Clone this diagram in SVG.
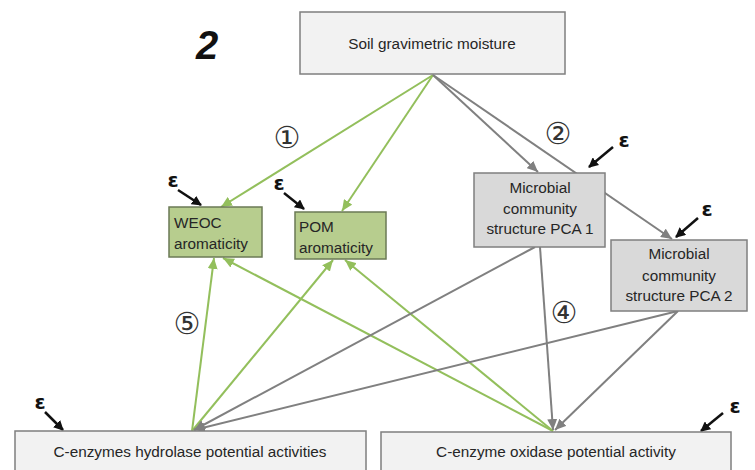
<svg xmlns="http://www.w3.org/2000/svg" width="755" height="470" viewBox="0 0 755 470">
<defs>
<style>
.t{font-family:"Liberation Sans","Open Sans",sans-serif;font-size:15.3px;fill:#262626}
.box{stroke:#7f7f7f;stroke-width:1.5}
.lt{fill:#f2f2f2}
.gr{fill:#d9d9d9}
.gn{fill:#b7cd8e;stroke:#6b7a55}
.g{stroke:#93bf5c;stroke-width:2;fill:none;marker-end:url(#ag)}
.k{stroke:#808080;stroke-width:2;fill:none;marker-end:url(#ak)}
.e{stroke:#111;stroke-width:2.5;fill:none;marker-end:url(#ae)}
.eps{font-family:"DejaVu Sans",sans-serif;font-weight:bold;font-size:20px;fill:#111}
.num{font-family:"DejaVu Sans",sans-serif;font-size:30px;fill:#333}
</style>
<marker id="ag" markerWidth="12" markerHeight="10" refX="11" refY="5" orient="auto" markerUnits="userSpaceOnUse"><path d="M0,0 L11,5 L0,10 z" fill="#93bf5c"/></marker>
<marker id="ak" markerWidth="12" markerHeight="10" refX="11" refY="5" orient="auto" markerUnits="userSpaceOnUse"><path d="M0,0 L11,5 L0,10 z" fill="#808080"/></marker>
<marker id="ae" markerWidth="10" markerHeight="10" refX="9" refY="5" orient="auto" markerUnits="userSpaceOnUse"><path d="M0,0 L10,5 L0,10 z" fill="#111"/></marker>
</defs>
<rect width="755" height="470" fill="#fff"/>
<text x="207" y="59" text-anchor="middle" style="font-family:'Liberation Sans',sans-serif;font-weight:bold;font-style:italic;font-size:40px;fill:#111">2</text>
<g id="connectors">
<line class="g" x1="433" y1="75" x2="221" y2="207"/>
<line class="g" x1="433" y1="75" x2="342" y2="211"/>
<line class="k" x1="433" y1="75" x2="538" y2="172"/>
<line class="k" x1="433" y1="75" x2="672" y2="239"/>
<line class="g" x1="192" y1="431" x2="214" y2="258"/>
<line class="g" x1="192" y1="431" x2="333" y2="260"/>
<line class="g" x1="553" y1="431" x2="223" y2="258"/>
<line class="g" x1="553" y1="431" x2="345" y2="260"/>
<line class="k" x1="535" y1="247" x2="194" y2="430"/>
<line class="k" x1="678" y1="311" x2="194" y2="430"/>
<line class="k" x1="540" y1="247" x2="553" y2="430"/>
<line class="k" x1="678" y1="311" x2="555" y2="430"/>
<line class="e" x1="178" y1="190" x2="201" y2="205"/>
<line class="e" x1="284" y1="193" x2="304" y2="209"/>
<line class="e" x1="613" y1="147" x2="589" y2="167"/>
<line class="e" x1="698" y1="218" x2="676" y2="237"/>
<line class="e" x1="45" y1="412" x2="63" y2="430"/>
<line class="e" x1="723" y1="413" x2="701" y2="431"/>
</g>
<g id="labels">
<text class="num" x="287" y="148" text-anchor="middle">①</text>
<text class="num" x="558" y="144" text-anchor="middle">②</text>
<text class="num" x="564" y="323" text-anchor="middle">④</text>
<text class="num" x="187" y="334" text-anchor="middle">⑤</text>
<text class="eps" x="173" y="187" text-anchor="middle">ε</text>
<text class="eps" x="279" y="190" text-anchor="middle">ε</text>
<text class="eps" x="624" y="147" text-anchor="middle">ε</text>
<text class="eps" x="707" y="216" text-anchor="middle">ε</text>
<text class="eps" x="40" y="409" text-anchor="middle">ε</text>
<text class="eps" x="735" y="413" text-anchor="middle">ε</text>
</g>
<g id="soil">
<rect class="box lt" x="300" y="12" width="265" height="62"/>
<text class="t" x="432" y="49" text-anchor="middle">Soil gravimetric moisture</text>
</g>
<g id="weoc">
<rect class="box gn" x="169" y="207" width="93" height="50"/>
<text class="t" x="174" y="228">WEOC</text>
<text class="t" x="174" y="249">aromaticity</text>
</g>
<g id="pom">
<rect class="box gn" x="295" y="212" width="91" height="47"/>
<text class="t" x="299" y="232">POM</text>
<text class="t" x="299" y="253">aromaticity</text>
</g>
<g id="pca1">
<rect class="box gr" x="474" y="173" width="131" height="74"/>
<text class="t" x="540" y="193" text-anchor="middle">Microbial</text>
<text class="t" x="540" y="214" text-anchor="middle">community</text>
<text class="t" x="540" y="234" text-anchor="middle">structure PCA 1</text>
</g>
<g id="pca2">
<rect class="box gr" x="611" y="240" width="136" height="71"/>
<text class="t" x="679" y="259" text-anchor="middle">Microbial</text>
<text class="t" x="679" y="281" text-anchor="middle">community</text>
<text class="t" x="679" y="301" text-anchor="middle">structure PCA 2</text>
</g>
<g id="hydrolase">
<rect class="box lt" x="15" y="431" width="351" height="45"/>
<text class="t" x="190" y="457" text-anchor="middle">C-enzymes hydrolase potential activities</text>
</g>
<g id="oxidase">
<rect class="box lt" x="381" y="432" width="350" height="45"/>
<text class="t" x="556" y="457" text-anchor="middle">C-enzyme oxidase potential activity</text>
</g>
</svg>
